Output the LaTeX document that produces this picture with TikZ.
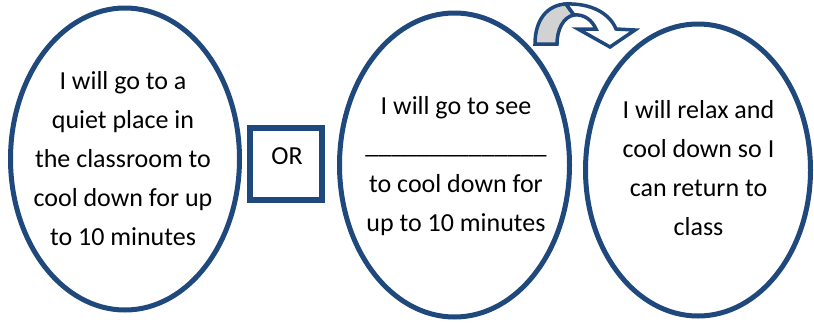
\documentclass[tikz,border=0pt]{standalone}
\usepackage{fontspec}
\setmainfont{Carlito}
\usepackage{tikz}
\usetikzlibrary{shapes.geometric}
\definecolor{navy}{RGB}{31,73,125}

\begin{document}
\begin{tikzpicture}[x=1pt, y=-1pt,
  bubble/.style={draw=navy, line width=5pt, ellipse, fill=white},
  msg/.style={font=\fontsize{26}{39}\selectfont, align=center, inner sep=0pt},
  orbox/.style={draw=navy, line width=6pt, fill=white,
                minimum width=72pt, minimum height=72pt},
  band/.style={draw=navy, line width=3.5pt, line join=miter},
]
\useasboundingbox (0,0) rectangle (814,322);

% ---- Option 1: quiet place ---------------------------------------------------
\node[bubble, minimum width=229pt, minimum height=302pt] (quiet) at (125,159) {};
\node[msg] (quietTxt) at (123,159)
  {I will go to a\\quiet place in\\the classroom to\\cool down for up\\to 10 minutes};

% ---- OR box ------------------------------------------------------------------
\node[orbox] (or) at (286,164) {};
\node[msg, text height=17pt, text depth=17pt] (orTxt) at (287,164) {OR};

% ---- Option 2: go to see someone ---------------------------------------------
\node[bubble, minimum width=230pt, minimum height=304pt] (see) at (454.5,165) {};
\node[msg] (seeTxt) at (456,166)
  {I will go to see\\\_\_\_\_\_\_\_\_\_\_\_\_\_\_\\to cool down for\\up to 10 minutes};

% ---- Result ------------------------------------------------------------------
\node[bubble, minimum width=225pt, minimum height=292pt] (relax) at (698,170) {};
\node[msg] (relaxTxt) at (698.5,168)
  {I will relax and\\cool down so I\\can return to\\class};

% ---- Curved block arrow (see -> relax) ---------------------------------------
\fill[gray!35, band]
  (535,44) .. controls (535,20) and (547,5) .. (566,4)
  -- (574,15) .. controls (563,17) and (557,30) .. (557,44) -- cycle;
\fill[white, band]
  (566,4) .. controls (592,3) and (610,14) .. (616,29)
  -- (635,30) -- (610,47) -- (578,29) -- (596,29)
  .. controls (592,20) and (584,14) .. (574,15) -- cycle;

\end{tikzpicture}
\end{document}
